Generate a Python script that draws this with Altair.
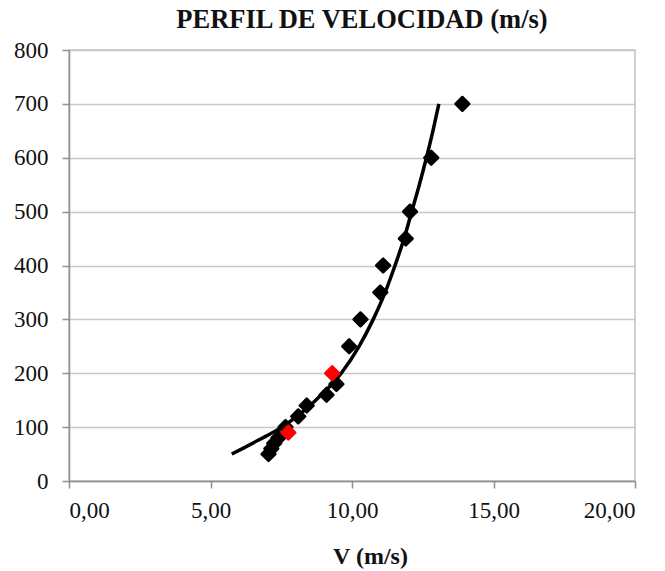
import altair as alt
import pandas as pd

# Measured points (black) and highlighted points (red)
v_black = [7.05, 7.15, 7.25, 7.4, 7.65, 8.1, 8.4, 9.1, 9.45, 9.9, 10.3, 11.0, 11.1, 11.9, 12.05, 12.8, 13.9]
h_black = [50, 60, 70, 80, 100, 120, 140, 160, 180, 250, 300, 350, 400, 450, 500, 600, 700]
v_red = [7.75, 9.3]
h_red = [90, 200]
# Fitted profile curve
v_curve = [5.75, 6.7, 7.52, 8.72, 9.62, 10.25, 10.75, 11.17, 11.52, 11.84, 12.11, 12.38, 12.63, 12.86, 13.07]
h_curve = [50, 76, 100, 150, 200, 250, 300, 350, 400, 450, 500, 550, 600, 650, 700]

x_ticks = [0, 5, 10, 15, 20]
y_ticks = [0, 100, 200, 300, 400, 500, 600, 700, 800]

df_black = pd.DataFrame({"v": v_black, "h": h_black})
df_red = pd.DataFrame({"v": v_red, "h": h_red})
df_curve = pd.DataFrame({"v": v_curve, "h": h_curve, "o": list(range(len(v_curve)))})

FONT = "Liberation Serif"

x_enc = alt.X(
    "v:Q",
    scale=alt.Scale(domain=[0, 20], nice=False, zero=False),
    axis=alt.Axis(
        values=x_ticks,
        labelExpr="replace(format(datum.value, '.2f'), '.', ',')",
        title="V (m/s)",
        titleFont=FONT,
        titleFontSize=24,
        titleFontWeight="bold",
        titleColor="#111111",
        titleX=301,
        titleY=82,
        titleBaseline="alphabetic",
        titleAlign="center",
        grid=False,
        tickSize=7,
        labelPadding=11,
    ),
)
y_enc = alt.Y(
    "h:Q",
    scale=alt.Scale(domain=[0, 800], nice=False),
    axis=alt.Axis(
        values=y_ticks,
        format="d",
        title=None,
        grid=True,
        tickSize=7,
        labelPadding=14,
    ),
)

curve = alt.Chart(df_curve).mark_line(
    color="black", strokeWidth=3.5, interpolate="monotone"
).encode(x=x_enc, y=y_enc, order="o:Q")

black_pts = alt.Chart(df_black).mark_point(
    shape="diamond", filled=True, color="black", size=190, opacity=1,
    stroke="black", strokeWidth=2.5, strokeJoin="round",
).encode(x="v:Q", y="h:Q")

red_pts = alt.Chart(df_red).mark_point(
    shape="diamond", filled=True, color="#ff0000", size=190, opacity=1,
    stroke="#ff0000", strokeWidth=2.5, strokeJoin="round",
).encode(x="v:Q", y="h:Q")

chart = (
    alt.layer(curve, black_pts, red_pts)
    .properties(
        width=566,
        height=431,
        background="white",
        autosize=alt.AutoSizeParams(type="none"),
        padding={"left": 61, "top": 42, "right": 20, "bottom": 90},
        title=alt.TitleParams(
            text="PERFIL DE VELOCIDAD (m/s)",
            font=FONT,
            fontSize=26.5,
            fontWeight="bold",
            color="#111111",
            anchor="middle",
            dx=10,
            offset=6,
        ),
    )
    .configure_view(stroke="#c2c2c2", strokeWidth=1.5)
    .configure_axis(
        labelFont=FONT,
        labelFontSize=23,
        labelColor="#111111",
        domainColor="#8f8f8f",
        domainWidth=1.5,
        tickColor="#8f8f8f",
        tickWidth=1.5,
        gridColor="#c8c8c8",
        gridWidth=1.5,
    )
)

chart.save("out.html", embed_options={"renderer": "svg", "actions": False})
